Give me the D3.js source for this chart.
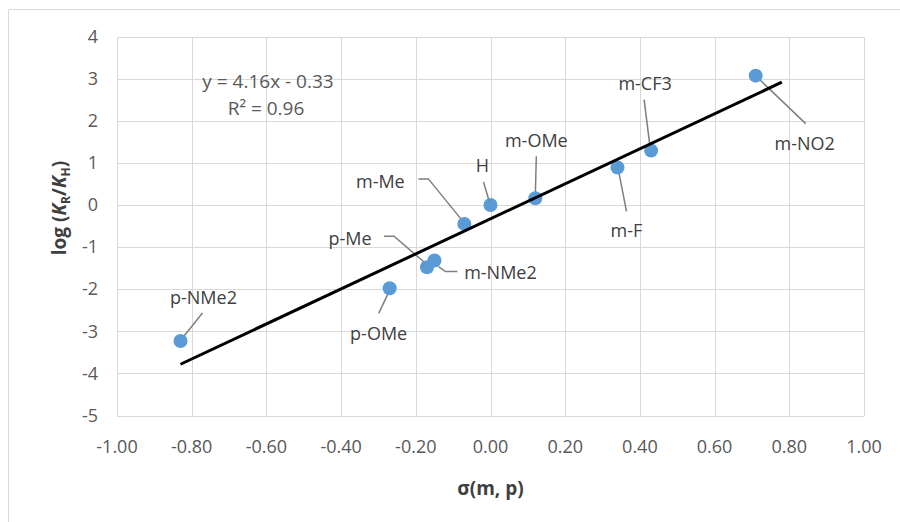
<!DOCTYPE html>
<html lang="en">
<head>
  <meta charset="utf-8">
  <title>Hammett plot</title>
  <script src="https://d3js.org/d3.v7.min.js"></script>
  <style>
    body { margin: 0; background: #fff; }
    svg { display: block; font-family: "Open Sans", "Noto Sans", sans-serif; }
    .grid line { stroke: #d9d9d9; stroke-width: 1px; shape-rendering: crispEdges; }
    .tick-label { fill: #595959; font-size: 18px; }
    .pt-label { fill: #404040; font-size: 18px; }
    .leader { fill: none; stroke: #7f7f7f; stroke-width: 1.5px; }
    .axis-title { fill: #404040; font-size: 19px; font-weight: bold; }
    .eq { fill: #595959; font-size: 19px; }
  </style>
</head>
<body>
<svg id="chart" width="900" height="522"></svg>
<script>
  // substituents, sigma constants and log(KR/KH)
  const names  = ["p-NMe2", "p-OMe", "p-Me", "m-NMe2", "m-Me", "H", "m-OMe", "m-F", "m-CF3", "m-NO2"];
  const sigma  = [-0.83, -0.27, -0.17, -0.15, -0.07, 0.00, 0.12, 0.34, 0.43, 0.71];
  const logK   = [-3.23, -1.98, -1.48, -1.32, -0.45, 0.00, 0.16, 0.89, 1.29, 3.07];

  // linear trend line
  const slope = 4.16, intercept = -0.33;
  const trendRange = [-0.83, 0.78];

  const xTicks = [-1, -0.8, -0.6, -0.4, -0.2, 0, 0.2, 0.4, 0.6, 0.8, 1];
  const yTicks = [4, 3, 2, 1, 0, -1, -2, -3, -4, -5];

  // label placement, pixel offsets from each point (label centre, then leader polyline)
  const labelLayout = {
    "p-NMe2": { dx: 23, dy: -43, leader: [[2, -3], [22, -28]] },
    "p-OMe":  { dx: -11, dy: 45, leader: [[0, 2], [-11, 25]] },
    "p-Me":   { dx: -77, dy: -29, leader: [[2, -1], [-33, -31], [-43, -31]] },
    "m-NMe2": { dx: 66, dy: 12, leader: [[4, 6], [11, 11], [23, 11]] },
    "m-Me":   { dx: -84, dy: -42, leader: [[-1, -2], [-36, -45], [-46, -45]] },
    "H":      { dx: -8, dy: -39, leader: [[-2, -6], [-7, -23]] },
    "m-OMe":  { dx: 1, dy: -58, leader: [[0, -3], [1, -42]] },
    "m-F":    { dx: 9, dy: 63, leader: [[1, 3], [9, 44]] },
    "m-CF3":  { dx: -6, dy: -67, leader: [[-1, -3], [-7, -51]] },
    "m-NO2":  { dx: 49, dy: 68, leader: [[3, 3], [50, 48]] }
  };

  const svg = d3.select("#chart");
  const margin = { left: 117, right: 36, top: 36.5, bottom: 106.5 };
  const W = 900, H = 522;

  const x = d3.scaleLinear().domain([-1, 1]).range([margin.left, W - margin.right]);
  const y = d3.scaleLinear().domain([-5, 4]).range([H - margin.bottom, margin.top]);

  // chart frame (only top and left edges are visible in the picture)
  svg.append("path")
    .attr("d", `M8.5,${H} V9.5 H${W}`)
    .attr("fill", "none")
    .attr("stroke", "#d9d9d9");

  // gridlines
  const grid = svg.append("g").attr("class", "grid");
  grid.selectAll("line.v").data(xTicks).join("line")
    .attr("x1", d => Math.round(x(d)) + 0.5).attr("x2", d => Math.round(x(d)) + 0.5)
    .attr("y1", y(4)).attr("y2", y(-5));
  grid.selectAll("line.h").data(yTicks).join("line")
    .attr("x1", x(-1)).attr("x2", x(1))
    .attr("y1", d => Math.round(y(d)) + 0.5).attr("y2", d => Math.round(y(d)) + 0.5);

  // tick labels (plain hyphen, like the original)
  const fmt = d => d3.format(".2f")(d).replace("\u2212", "-");
  svg.append("g").selectAll("text").data(xTicks).join("text")
    .attr("class", "tick-label")
    .attr("x", d => x(d))
    .attr("y", y(-5) + 31)
    .attr("dy", "0.35em")
    .attr("text-anchor", "middle")
    .text(fmt);

  svg.append("g").selectAll("text").data(yTicks).join("text")
    .attr("class", "tick-label")
    .attr("x", margin.left - 19)
    .attr("y", d => y(d))
    .attr("dy", "0.35em")
    .attr("text-anchor", "end")
    .text(d => String(d));

  // axis titles
  svg.append("text")
    .attr("class", "axis-title")
    .attr("x", x(0))
    .attr("y", 488)
    .attr("dy", "0.35em")
    .attr("text-anchor", "middle")
    .text("σ(m, p)");

  const yt = svg.append("text")
    .attr("class", "axis-title")
    .attr("font-size", "18px")
    .attr("transform", "translate(66, 208) rotate(-90)")
    .attr("text-anchor", "middle");
  yt.append("tspan").text("log (");
  yt.append("tspan").attr("font-style", "italic").text("K");
  yt.append("tspan").attr("font-size", "12px").attr("dy", 4).text("R");
  yt.append("tspan").attr("dy", -4).text("/");
  yt.append("tspan").attr("font-style", "italic").text("K");
  yt.append("tspan").attr("font-size", "12px").attr("dy", 4).text("H");
  yt.append("tspan").attr("dy", -4).text(")");

  const pts = names.map((n, i) => ({ name: n, sx: sigma[i], ly: logK[i] }));

  // leader lines
  svg.append("g").selectAll("path").data(pts).join("path")
    .attr("class", "leader")
    .attr("d", d => {
      const px = x(d.sx), py = y(d.ly);
      return d3.line()(labelLayout[d.name].leader.map(([dx, dy]) => [px + dx, py + dy]));
    });

  // markers
  svg.append("g").selectAll("circle").data(pts).join("circle")
    .attr("cx", d => x(d.sx))
    .attr("cy", d => y(d.ly))
    .attr("r", 7)
    .attr("fill", "#5b9bd5");

  // trend line
  svg.append("line")
    .attr("x1", x(trendRange[0])).attr("y1", y(slope * trendRange[0] + intercept))
    .attr("x2", x(trendRange[1])).attr("y2", y(slope * trendRange[1] + intercept))
    .attr("stroke", "#000")
    .attr("stroke-width", 3);

  // point labels
  svg.append("g").selectAll("text").data(pts).join("text")
    .attr("class", "pt-label")
    .attr("x", d => x(d.sx) + labelLayout[d.name].dx)
    .attr("y", d => y(d.ly) + labelLayout[d.name].dy)
    .attr("dy", "0.35em")
    .attr("text-anchor", "middle")
    .text(d => d.name);

  // regression equation
  svg.append("text").attr("class", "eq")
    .attr("x", 268).attr("y", 81).attr("dy", "0.35em")
    .attr("text-anchor", "middle")
    .text(`y = ${slope}x - ${Math.abs(intercept)}`);
  svg.append("text").attr("class", "eq")
    .attr("x", 266).attr("y", 108).attr("dy", "0.35em")
    .attr("text-anchor", "middle")
    .text("R² = 0.96");
</script>
</body>
</html>
